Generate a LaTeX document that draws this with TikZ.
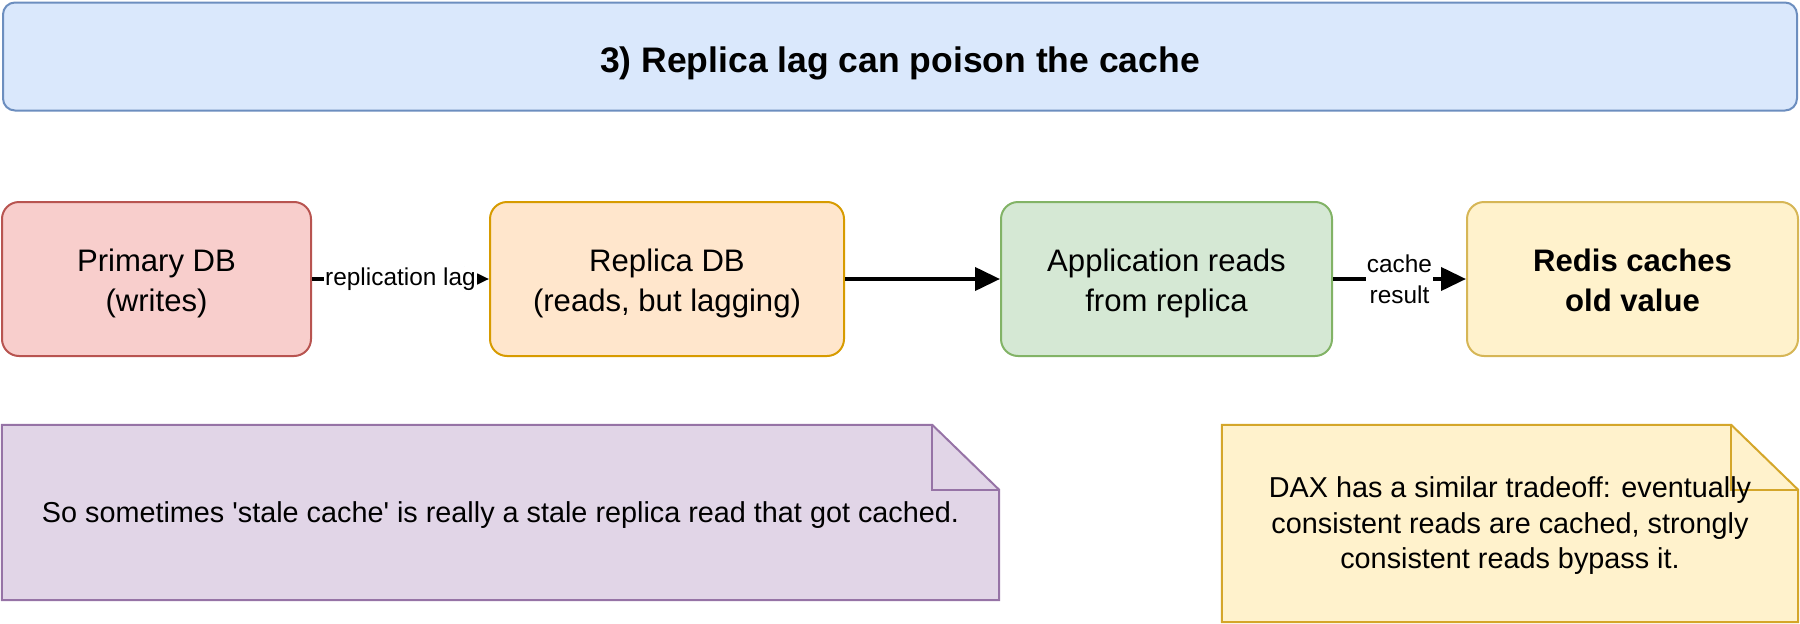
\documentclass[tikz,border=0pt]{standalone}
\usepackage{fontspec}
\setmainfont{Liberation Sans}[Ligatures=TeXOff]
\usetikzlibrary{arrows.meta,positioning,backgrounds}
\definecolor{titlefill}{HTML}{DAE8FC}
\definecolor{titleline}{HTML}{6C8EBF}
\definecolor{primfill}{HTML}{F8CECC}
\definecolor{primline}{HTML}{B85450}
\definecolor{replfill}{HTML}{FFE6CC}
\definecolor{replline}{HTML}{D79B00}
\definecolor{appfill}{HTML}{D5E8D4}
\definecolor{appline}{HTML}{82B366}
\definecolor{redisfill}{HTML}{FFF2CC}
\definecolor{redisline}{HTML}{D6B656}
\definecolor{stalefill}{HTML}{E1D5E7}
\definecolor{staleline}{HTML}{9673A6}
\definecolor{daxline}{HTML}{D4A62A}

\begin{document}
\begin{tikzpicture}[x=1pt,y=-1pt,
    box/.style={rounded corners=17pt,line width=2pt,minimum height=154pt,inner sep=0pt,align=center,text height=71.5pt,text depth=6.5pt,font=\fontsize{31.1}{40}\selectfont},
    arr/.style={line width=4pt,-{Triangle[length=25pt,width=23pt]}},
    lbl/.style={fill=white,inner sep=1pt,align=center,font=\fontsize{24.4}{31}\selectfont},
    notebox/.style={inner sep=0pt,align=center,font=\fontsize{28.8}{35.6}\selectfont}]
    \useasboundingbox (0,0) rectangle (1800,624);

    \node[box,draw=titleline,fill=titlefill,minimum width=1794pt,minimum height=108pt,rounded corners=12pt,text height=40pt,text depth=7.5pt,font=\bfseries\fontsize{35.5}{42}\selectfont] (title) at (900,56.5) {3) Replica lag can poison the cache};

    \node[box,draw=primline,fill=primfill,minimum width=309pt] (primary) at (156.5,279) {Primary DB\\(writes)};
    \node[box,draw=replline,fill=replfill,minimum width=354pt] (replica) at (667,279) {Replica DB\\(reads, but lagging)};
    \node[box,draw=appline,fill=appfill,minimum width=331pt] (app) at (1166.5,279) {Application reads\\from replica};
    \node[box,draw=redisline,fill=redisfill,minimum width=331pt,font=\bfseries\fontsize{31.1}{40}\selectfont] (redis) at (1632.5,279) {Redis caches\\old value};

    \draw[arr] (primary) -- node[lbl] {replication lag} (replica);
    \draw[arr] (replica) -- (app);
    \draw[arr] (app) -- node[lbl] {cache\\result} (redis);

    \node[notebox,minimum width=997pt,minimum height=175pt,text height=25.6pt,text depth=6pt] (stale) at (500.5,512.5) {So sometimes 'stale cache' is really a stale replica read that got cached.};
    \node[notebox,minimum width=576pt,minimum height=197pt,text height=96.8pt,text depth=6pt] (dax) at (1510,523.5) {DAX has a similar tradeoff: eventually\\consistent reads are cached, strongly\\consistent reads bypass it.};

    \begin{scope}[on background layer]
        \draw[line width=2pt,draw=staleline,fill=stalefill] (stale.south west) -- (stale.north west) -- ([xshift=-67pt]stale.north east) -- ([yshift=-65pt]stale.north east) -- (stale.south east) -- cycle;
        \draw[line width=2pt,draw=staleline] ([xshift=-67pt]stale.north east) |- ([yshift=-65pt]stale.north east);
        \draw[line width=2pt,draw=daxline,fill=redisfill] (dax.south west) -- (dax.north west) -- ([xshift=-67pt]dax.north east) -- ([yshift=-65pt]dax.north east) -- (dax.south east) -- cycle;
        \draw[line width=2pt,draw=daxline] ([xshift=-67pt]dax.north east) |- ([yshift=-65pt]dax.north east);
    \end{scope}
\end{tikzpicture}
\end{document}
